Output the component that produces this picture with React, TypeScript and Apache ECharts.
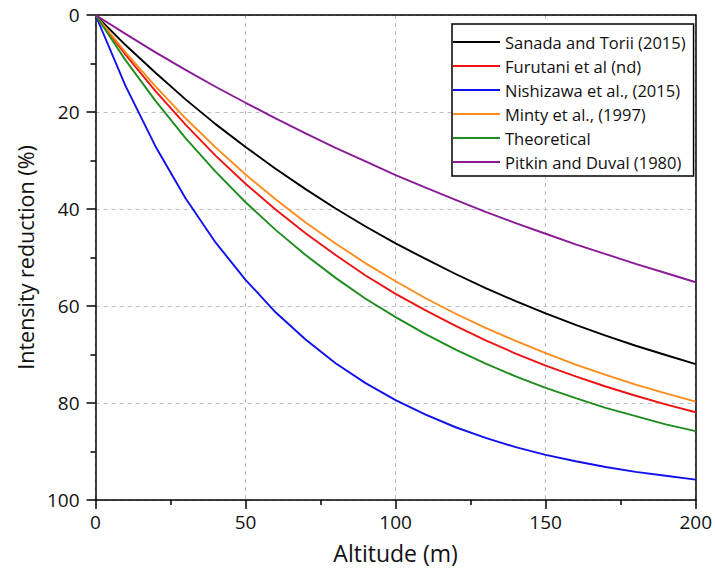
import React, { useEffect, useRef } from "react";
import * as echarts from "echarts";

const altitudes = [0, 10, 20, 30, 40, 50, 60, 70, 80, 90, 100, 110, 120, 130, 140, 150, 160, 170, 180, 190, 200];

const sanada = [0, 6.2, 11.9, 17.4, 22.5, 27.2, 31.7, 35.9, 39.9, 43.6, 47.1, 50.3, 53.4, 56.3, 59.0, 61.5, 63.9, 66.1, 68.2, 70.1, 72.0];
const furutani = [0, 8.2, 15.7, 22.6, 29.0, 34.8, 40.1, 45.0, 49.5, 53.7, 57.5, 60.9, 64.1, 67.1, 69.8, 72.3, 74.5, 76.6, 78.5, 80.3, 81.9];
const nishizawa = [0, 14.6, 27.1, 37.8, 46.9, 54.6, 61.3, 66.9, 71.8, 75.9, 79.4, 82.4, 85.0, 87.2, 89.1, 90.7, 92.0, 93.2, 94.2, 95.0, 95.8];
const minty = [0, 7.7, 14.7, 21.3, 27.3, 32.9, 38.0, 42.8, 47.1, 51.2, 54.9, 58.4, 61.6, 64.5, 67.2, 69.7, 72.1, 74.2, 76.2, 78.0, 79.7];
const theoretical = [0, 9.3, 17.7, 25.4, 32.3, 38.6, 44.3, 49.5, 54.2, 58.5, 62.3, 65.8, 69.0, 71.9, 74.5, 76.9, 79.0, 81.0, 82.7, 84.4, 85.8];
const pitkin = [0, 3.9, 7.7, 11.3, 14.8, 18.1, 21.3, 24.4, 27.4, 30.2, 33.0, 35.6, 38.1, 40.6, 42.9, 45.1, 47.3, 49.3, 51.3, 53.2, 55.1];

const seriesNames = [
  "Sanada and Torii (2015)",
  "Furutani et al (nd)",
  "Nishizawa et al., (2015)",
  "Minty et al., (1997)",
  "Theoretical",
  "Pitkin and Duval (1980)",
];
const seriesValues = [sanada, furutani, nishizawa, minty, theoretical, pitkin];
const seriesColors = ["#000000", "#ee1111", "#1010ee", "#ff8c1a", "#1e8c1e", "#8a1a96"];

const FONT = "Open Sans";

const frameAxis = {
  show: true,
  axisLine: { show: true, onZero: false, lineStyle: { color: "#000", width: 1.5 } },
  axisTick: { show: false },
  axisLabel: { show: false },
  splitLine: { show: false },
};

export default function App() {
  const ref = useRef<HTMLDivElement>(null);
  useEffect(() => {
    if (!ref.current) return;
    const chart = echarts.init(ref.current, undefined, { renderer: "svg" });
    chart.setOption({
      animation: false,
      backgroundColor: "#ffffff",
      textStyle: { fontFamily: FONT },
      grid: {
        left: 95.5,
        right: 17.5,
        top: 15,
        bottom: 74,
      },
      legend: {
        orient: "vertical",
        left: 452,
        top: 24,
        data: seriesNames,
        icon: "rect",
        itemWidth: 47,
        itemHeight: 2,
        itemGap: 6,
        padding: [9, 8, 5, 1],
        borderColor: "#000",
        borderWidth: 1.5,
        backgroundColor: "#ffffff",
        z: 10,
        textStyle: { fontFamily: FONT, fontSize: 16.5, color: "#111", lineHeight: 18 },
      },
      xAxis: [
        {
          type: "value",
          min: 0,
          max: 200,
          interval: 50,
          name: "Altitude (m)",
          nameLocation: "middle",
          nameGap: 41,
          nameTextStyle: { fontFamily: FONT, fontSize: 23, color: "#111" },
          axisLine: { show: true, onZero: false, lineStyle: { color: "#000", width: 1.5 } },
          axisTick: { show: true, inside: false, length: 9, lineStyle: { color: "#000", width: 1.5 } },
          minorTick: { show: true, splitNumber: 2, length: 5, lineStyle: { color: "#000", width: 1.5 } },
          axisLabel: { fontFamily: FONT, fontSize: 19, color: "#111", margin: 12 },
          splitLine: { show: true, lineStyle: { color: "#bdbdbd", type: [4, 4], width: 1 } },
        },
        { ...frameAxis, type: "value", position: "top", min: 0, max: 200 },
      ],
      yAxis: [
        {
          type: "value",
          inverse: true,
          min: 0,
          max: 100,
          interval: 20,
          name: "Intensity reduction (%)",
          nameLocation: "middle",
          nameGap: 57,
          nameTextStyle: { fontFamily: FONT, fontSize: 21.5, color: "#111" },
          axisLine: { show: true, onZero: false, lineStyle: { color: "#000", width: 1.5 } },
          axisTick: { show: true, inside: false, length: 9, lineStyle: { color: "#000", width: 1.5 } },
          minorTick: { show: true, splitNumber: 2, length: 5, lineStyle: { color: "#000", width: 1.5 } },
          axisLabel: { fontFamily: FONT, fontSize: 19, color: "#111", margin: 16 },
          splitLine: { show: true, lineStyle: { color: "#bdbdbd", type: [4, 4], width: 1 } },
        },
        { ...frameAxis, type: "value", position: "right", inverse: true, min: 0, max: 100 },
      ],
      series: seriesNames.map((name, i) => ({
        name,
        type: "line",
        xAxisIndex: 0,
        yAxisIndex: 0,
        data: altitudes.map((a, j) => [a, seriesValues[i][j]]),
        showSymbol: false,
        symbol: "none",
        lineStyle: { color: seriesColors[i], width: 1.9 },
        itemStyle: { color: seriesColors[i] },
        z: 3,
      })),
    });
    return () => chart.dispose();
  }, []);
  return <div ref={ref} style={{ width: 715, height: 574, position: "absolute", left: 0, top: 0 }} />;
}
